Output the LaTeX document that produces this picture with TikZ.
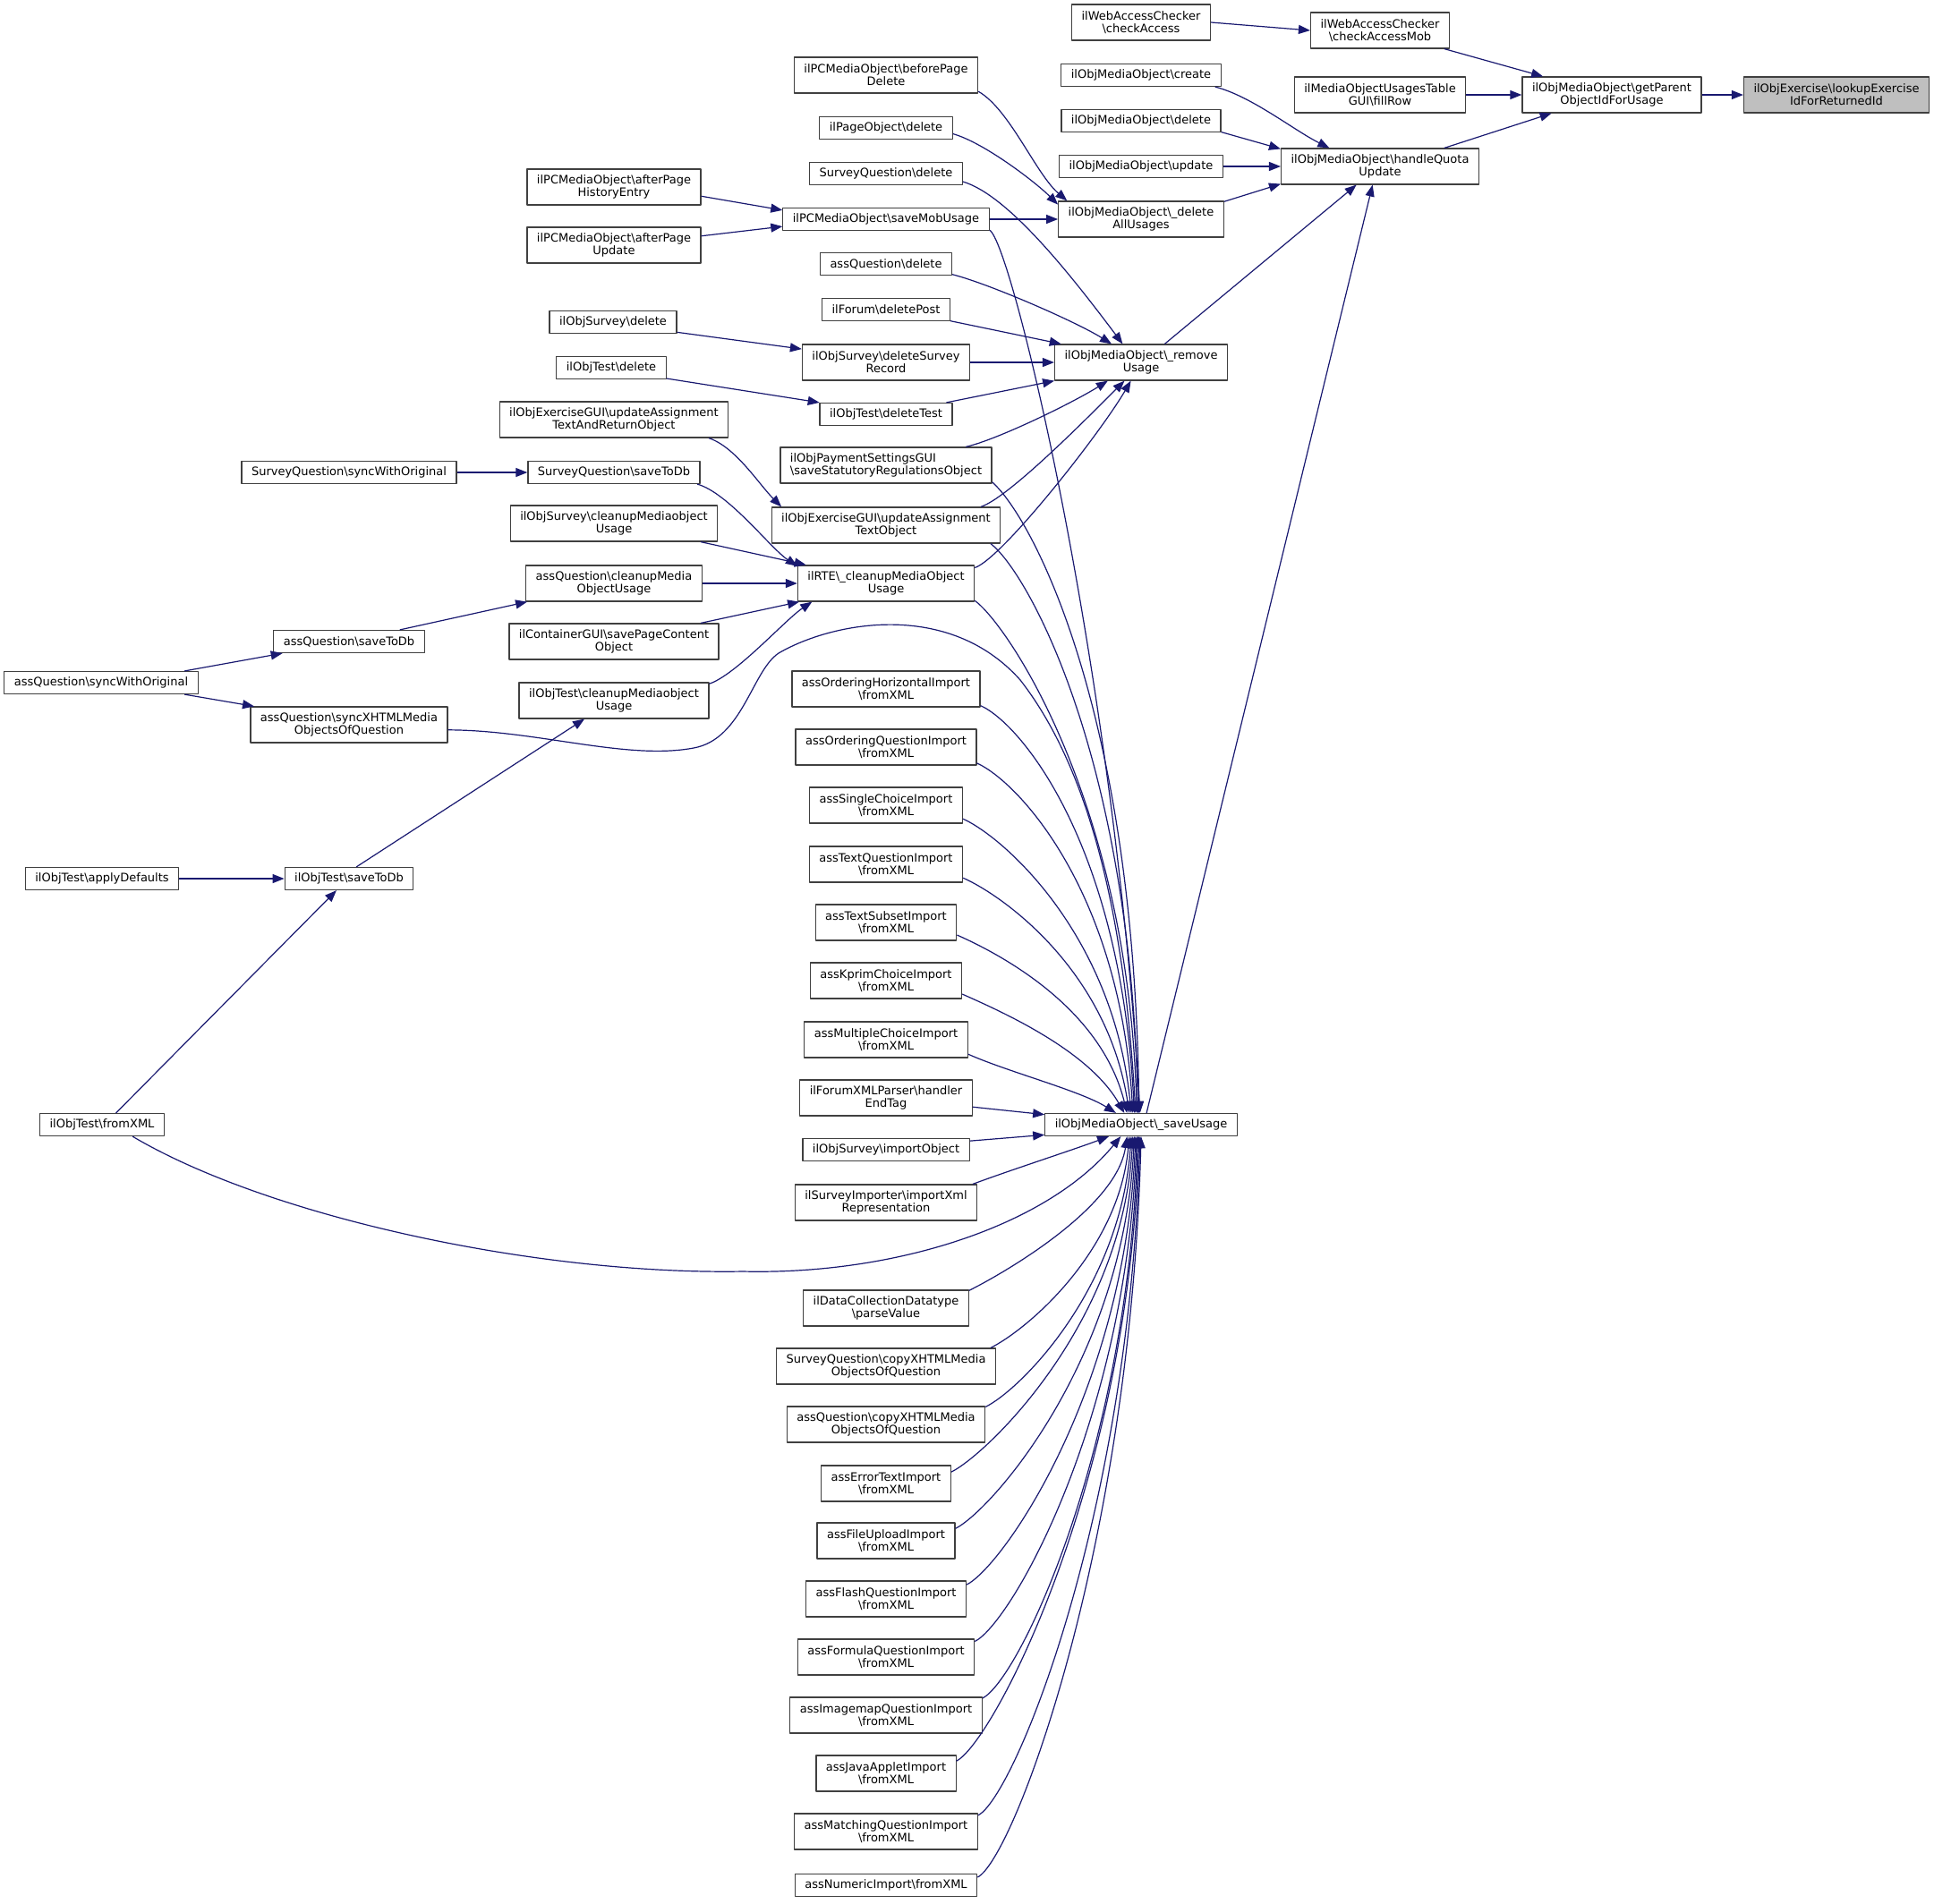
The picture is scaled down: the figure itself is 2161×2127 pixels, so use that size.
\documentclass[tikz,border=0pt]{standalone}
\usepackage{fontspec}
\setmainfont{DejaVu Sans}
\usetikzlibrary{arrows.meta}
\definecolor{edgeblue}{HTML}{191970}
\definecolor{boxgray}{HTML}{BFBFBF}
\newcommand{\bsl}{\textbackslash}
\begin{document}
\begin{tikzpicture}[x=0.5pt,y=-0.5pt,line join=round,>={Triangle[length=6.5pt,width=5pt]}]
	\tikzset{fn/.style={draw=black!75,fill=white,line width=0.6pt,inner xsep=5.5pt,inner ysep=3pt,minimum height=12.5pt,align=center,font=\fontsize{6.5}{7}\selectfont},
		fnn/.style={fn,minimum height=20pt},
		call/.style={draw=edgeblue,line width=0.6pt,->}}
	\useasboundingbox (0,0) rectangle (2161,2127);
	\node[fnn,fill=boxgray] (lookup) at (2052,106) {ilObjExercise\bsl lookupExercise\\IdForReturnedId};
	\node[fnn] (getParent) at (1801,106) {ilObjMediaObject\bsl getParent\\ObjectIdForUsage};
	\node[fnn] (fillRow) at (1542,106) {ilMediaObjectUsagesTable\\GUI\bsl fillRow};
	\node[fnn] (checkMob) at (1542,34) {ilWebAccessChecker\\\bsl checkAccessMob};
	\node[fnn] (checkAccess) at (1275,25) {ilWebAccessChecker\\\bsl checkAccess};
	\node[fnn] (quota) at (1542,186) {ilObjMediaObject\bsl handleQuota\\Update};
	\node[fn] (mobCreate) at (1275,84) {ilObjMediaObject\bsl create};
	\node[fn] (mobDelete) at (1275,135) {ilObjMediaObject\bsl delete};
	\node[fn] (mobUpdate) at (1275,186) {ilObjMediaObject\bsl update};
	\node[fnn] (deleteAll) at (1275,245) {ilObjMediaObject\bsl\_delete\\AllUsages};
	\node[fnn] (removeUsage) at (1275,405) {ilObjMediaObject\bsl\_remove\\Usage};
	\node[fn] (saveUsage) at (1275,1257) {ilObjMediaObject\bsl\_saveUsage};
	% middle column
	\node[fnn] (beforeDel) at (990,84) {ilPCMediaObject\bsl beforePage\\Delete};
	\node[fn] (pageDel) at (990,143) {ilPageObject\bsl delete};
	\node[fn] (sqDel) at (990,194) {SurveyQuestion\bsl delete};
	\node[fn] (saveMob) at (990,245) {ilPCMediaObject\bsl saveMobUsage};
	\node[fn] (aqDel) at (990,295) {assQuestion\bsl delete};
	\node[fn] (forumDel) at (990,346) {ilForum\bsl deletePost};
	\node[fnn] (surveyRec) at (990,405) {ilObjSurvey\bsl deleteSurvey\\Record};
	\node[fn] (delTest) at (990,463) {ilObjTest\bsl deleteTest};
	\node[fnn,align=left] (payment) at (990,520) {ilObjPaymentSettingsGUI\\\bsl saveStatutoryRegulationsObject};
	\node[fnn] (assignText) at (990,587) {ilObjExerciseGUI\bsl updateAssignment\\TextObject};
	\node[fnn] (rteClean) at (990,652) {ilRTE\bsl\_cleanupMediaObject\\Usage};
	\node[fnn] (ordHor) at (990,770) {assOrderingHorizontalImport\\\bsl fromXML};
	\node[fnn] (ordQue) at (990,835) {assOrderingQuestionImport\\\bsl fromXML};
	\node[fnn] (single) at (990,900) {assSingleChoiceImport\\\bsl fromXML};
	\node[fnn] (textQue) at (990,966) {assTextQuestionImport\\\bsl fromXML};
	\node[fnn] (textSub) at (990,1031) {assTextSubsetImport\\\bsl fromXML};
	\node[fnn] (kprim) at (990,1096) {assKprimChoiceImport\\\bsl fromXML};
	\node[fnn] (multi) at (990,1162) {assMultipleChoiceImport\\\bsl fromXML};
	\node[fnn] (forumXml) at (990,1227) {ilForumXMLParser\bsl handler\\EndTag};
	\node[fn] (surveyImp) at (990,1285) {ilObjSurvey\bsl importObject};
	\node[fnn] (importer) at (990,1344) {ilSurveyImporter\bsl importXml\\Representation};
	\node[fnn] (dcl) at (990,1462) {ilDataCollectionDatatype\\\bsl parseValue};
	\node[fnn] (sqCopy) at (990,1527) {SurveyQuestion\bsl copyXHTMLMedia\\ObjectsOfQuestion};
	\node[fnn] (aqCopy) at (990,1592) {assQuestion\bsl copyXHTMLMedia\\ObjectsOfQuestion};
	\node[fnn] (errText) at (990,1658) {assErrorTextImport\\\bsl fromXML};
	\node[fnn] (upload) at (990,1722) {assFileUploadImport\\\bsl fromXML};
	\node[fnn] (flash) at (990,1787) {assFlashQuestionImport\\\bsl fromXML};
	\node[fnn] (formula) at (990,1852) {assFormulaQuestionImport\\\bsl fromXML};
	\node[fnn] (imagemap) at (990,1917) {assImagemapQuestionImport\\\bsl fromXML};
	\node[fnn] (applet) at (990,1982) {assJavaAppletImport\\\bsl fromXML};
	\node[fnn] (matching) at (990,2047) {assMatchingQuestionImport\\\bsl fromXML};
	\node[fn] (numeric) at (990,2107) {assNumericImport\bsl fromXML};
	% left columns
	\node[fnn] (histEntry) at (686,209) {ilPCMediaObject\bsl afterPage\\HistoryEntry};
	\node[fnn] (pageUpd) at (686,274) {ilPCMediaObject\bsl afterPage\\Update};
	\node[fn] (surveyDel) at (685,360) {ilObjSurvey\bsl delete};
	\node[fn] (testDel) at (683,411) {ilObjTest\bsl delete};
	\node[fnn] (assignReturn) at (686,469) {ilObjExerciseGUI\bsl updateAssignment\\TextAndReturnObject};
	\node[fn] (sqSave) at (686,528) {SurveyQuestion\bsl saveToDb};
	\node[fnn] (surveyClean) at (686,585) {ilObjSurvey\bsl cleanupMediaobject\\Usage};
	\node[fnn] (aqClean) at (686,652) {assQuestion\bsl cleanupMedia\\ObjectUsage};
	\node[fnn] (container) at (686,717) {ilContainerGUI\bsl savePageContent\\Object};
	\node[fnn] (testClean) at (686,783) {ilObjTest\bsl cleanupMediaobject\\Usage};
	\node[fn] (sqSync) at (390,528) {SurveyQuestion\bsl syncWithOriginal};
	\node[fn] (aqSave) at (390,717) {assQuestion\bsl saveToDb};
	\node[fnn] (aqSyncX) at (390,810) {assQuestion\bsl syncXHTMLMedia\\ObjectsOfQuestion};
	\node[fn] (testSave) at (390,982) {ilObjTest\bsl saveToDb};
	\node[fn] (aqSync) at (113,763) {assQuestion\bsl syncWithOriginal};
	\node[fn] (defaults) at (114,982) {ilObjTest\bsl applyDefaults};
	\node[fn] (testXml) at (114,1257) {ilObjTest\bsl fromXML};
	% calls on the right
	\draw[call] (getParent) -- (lookup);
	\draw[call] (fillRow) -- (getParent);
	\draw[call] (checkMob.-16) -- (getParent.165);
	\draw[call] (quota.16) -- (getParent.-163);
	\draw[call] (checkAccess.east) -- (checkMob.west);
	\draw[call] (mobCreate.-9) .. controls +(40,10) and +(-40,-20) .. (quota.160);
	\draw[call] (mobDelete.-8) -- (quota.170);
	\draw[call] (mobUpdate) -- (quota);
	\draw[call] (deleteAll.12) -- (quota.-170);
	\draw[call] (removeUsage.38) -- (quota.-142);
	\draw[call] (saveUsage.65) -- (quota.-112);
	\draw[call] (beforeDel.-10) .. controls +(35,20) and +(-35,-30) .. (deleteAll.166);
	\draw[call] (pageDel.-5) .. controls +(35,10) and +(-25,-25) .. (deleteAll.170);
	\draw[call] (saveMob) -- (deleteAll);
	\draw[call] (histEntry.-6) -- (saveMob.175);
	\draw[call] (pageUpd.6) -- (saveMob.-176);
	\draw[call] (sqDel.-6) .. controls +(50,15) and +(-60,-80) .. (removeUsage.135);
	\draw[call] (aqDel.-9) .. controls +(40,10) and +(-40,-25) .. (removeUsage.148);
	\draw[call] (forumDel.-10) -- (removeUsage.167);
	\draw[call] (surveyRec) -- (removeUsage);
	\draw[call] (delTest.11) -- (removeUsage.-168);
	\draw[call] (payment.13) .. controls +(35,-8) and +(-40,25) .. (removeUsage.-151);
	\draw[call] (assignText.11) .. controls +(30,-10) and +(-50,50) .. (removeUsage.-132);
	\draw[call] (rteClean.10) .. controls +(30,-10) and +(-35,60) .. (removeUsage.-119);
	% calls on the left
	\draw[call] (surveyDel.-9) -- (surveyRec.171);
	\draw[call] (testDel.-11) -- (delTest.170);
	\draw[call] (assignReturn.-11) .. controls +(30,10) and +(-25,-25) .. (assignText.170);
	\draw[call] (sqSync) -- (sqSave);
	\draw[call] (sqSave.-8) .. controls +(35,10) and +(-30,-20) .. (rteClean.169);
	\draw[call] (surveyClean.-12) -- (rteClean.167);
	\draw[call] (aqClean) -- (rteClean);
	\draw[call] (container.12) -- (rteClean.-168);
	\draw[call] (testClean.10) .. controls +(30,-10) and +(-30,20) .. (rteClean.-166);
	\draw[call] (aqSave.13) -- (aqClean.-168);
	\draw[call] (aqSync.8) -- (aqSave.-170);
	\draw[call] (aqSync.-8) -- (aqSyncX.169);
	\draw[call] (testSave.58) -- (testClean.-148);
	\draw[call] (defaults) -- (testSave);
	\draw[call] (testXml.40) -- (testSave.-137);
	% calls into saveUsage
	\draw[call] (saveMob.-6.5) .. controls +(25,15) and +(-30,-500) .. (saveUsage.95);
	\draw[call] (payment.-9) .. controls +(45,40) and +(-5,-450) .. (saveUsage.100);
	\draw[call] (assignText.-10) .. controls +(40,30) and +(-8,-400) .. (saveUsage.105);
	\draw[call] (rteClean.-11) .. controls +(35,25) and +(-10,-350) .. (saveUsage.110);
	\draw[call] (aqSyncX.-3) .. controls (600,816) and (700,850) .. (775,836)
		.. controls (830,826) and (840,750) .. (870,730)
		.. controls (930,695) and (1060,670) .. (1140,760)
		.. controls (1210,850) and (1255,1000) .. (saveUsage.115);
	\foreach \n/\a/\d/\k in {ordHor/120/15/300, ordQue/125/15/250, single/130/20/200, textQue/135/25/160, textSub/140/30/120, kprim/145/40/70, multi/155/40/25}
		\draw[call] (\n.-10) .. controls +(45,20) and +(-\d,-\k) .. (saveUsage.\a);
	\draw[call] (forumXml.-6) -- (saveUsage.174);
	\draw[call] (surveyImp.6) -- (saveUsage.186);
	\draw[call] (importer.12) .. controls +(40,-15) and +(-40,15) .. (saveUsage.-160);
	\draw[call] (testXml.-21) .. controls (300,1360) and (600,1425) .. (830,1421)
		.. controls (1000,1425) and (1170,1370) .. (saveUsage.-150);
	\foreach \n/\s/\a/\k in {dcl/12/-140/80, sqCopy/10/-135/130, aqCopy/10/-130/170, errText/10/-125/210, upload/10/-120/250, flash/10/-115/285, formula/10/-110/320, imagemap/10/-105/355, applet/10/-100/390, matching/10/-95/425, numeric/5/-90/460}
		\draw[call] (\n.\s) .. controls +(40,-20) and +(-12,\k) .. (saveUsage.\a);
\end{tikzpicture}
\end{document}
